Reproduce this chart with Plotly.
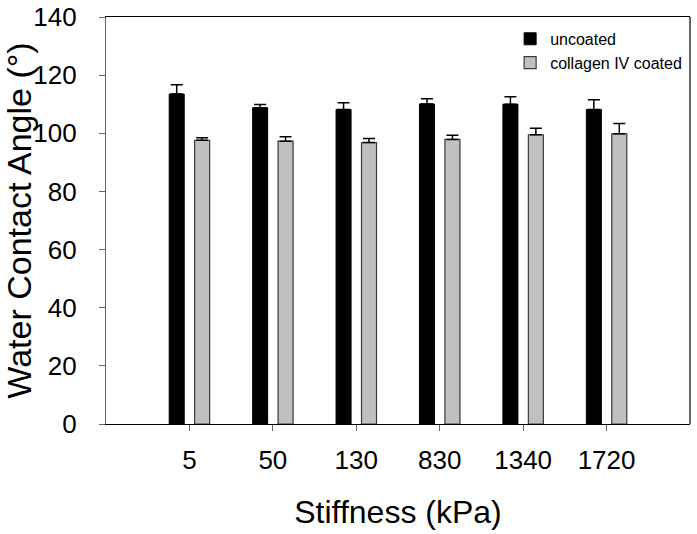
import plotly.graph_objects as go

categories = ["5", "50", "130", "830", "1340", "1720"]
uncoated = [113.5, 108.8, 108.2, 110.1, 110.0, 108.2]
uncoated_err = [3.2, 1.1, 2.3, 1.8, 2.6, 3.3]
coated = [97.6, 97.3, 96.8, 97.9, 99.5, 99.8]
coated_err = [0.9, 1.5, 1.4, 1.4, 2.2, 3.6]
yticks = [0, 20, 40, 60, 80, 100, 120, 140]

xpos = list(range(1, len(categories) + 1))
FONT = "Liberation Sans, Arial, sans-serif"

fig = go.Figure()
fig.add_trace(go.Bar(
    x=xpos, y=uncoated, name="uncoated",
    marker=dict(color="black", line=dict(color="black", width=1)),
    error_y=dict(type="data", symmetric=False, array=uncoated_err,
                 arrayminus=[0] * len(uncoated_err),
                 color="black", thickness=1.5, width=6),
))
fig.add_trace(go.Bar(
    x=xpos, y=coated, name="collagen IV coated",
    marker=dict(color="#c0c0c0", line=dict(color="#3a3a3a", width=1.2)),
    error_y=dict(type="data", symmetric=False, array=coated_err,
                 arrayminus=[0] * len(coated_err),
                 color="black", thickness=1.5, width=6),
))

fig.update_layout(
    width=697, height=534,
    margin=dict(l=106, r=7, t=17, b=110),
    paper_bgcolor="white", plot_bgcolor="white",
    barmode="group", bargap=0.39, bargroupgap=0.41,
    font=dict(family=FONT, color="black"),
    showlegend=True,
    legend=dict(x=0.692, y=0.988, xanchor="left", yanchor="top",
                font=dict(size=16, family=FONT), bgcolor="rgba(0,0,0,0)",
                tracegroupgap=0, itemwidth=30),
    shapes=[dict(type="line", xref="paper", yref="paper", x0=1, x1=1, y0=0, y1=1,
                 line=dict(color="black", width=1.2))],
)
fig.update_xaxes(
    range=[0, 7], tickvals=xpos, ticktext=categories, automargin=False,
    showline=True, linecolor="black", linewidth=1.2, mirror=True,
    ticks="outside", ticklen=6, tickcolor="#666", tickwidth=1.2,
    tickfont=dict(size=26, family=FONT), ticklabelstandoff=7,
    showgrid=False, zeroline=False,
    title=dict(text="Stiffness (kPa)", font=dict(size=32, family=FONT), standoff=26),
)
fig.update_yaxes(
    range=[0, 140], tickvals=yticks, automargin=False,
    showline=True, linecolor="#666", linewidth=1.2, mirror=False,
    ticks="outside", ticklen=6, tickcolor="#666", tickwidth=1.2,
    tickfont=dict(size=26, family=FONT), ticklabelstandoff=17,
    showgrid=False, zeroline=False,
    title=dict(text="Water Contact Angle (°)", font=dict(size=34, family=FONT), standoff=0),
)

fig.write_html(
    "out.html",
    config={"displayModeBar": False},
    post_script="document.body.style.margin='0px';document.body.style.overflow='hidden';",
)
